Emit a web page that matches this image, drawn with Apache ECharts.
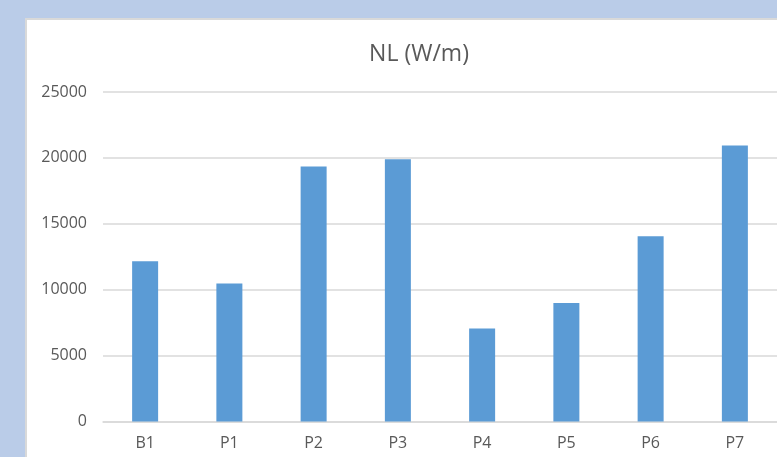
<!DOCTYPE html>
<html>
<head>
<meta charset="utf-8">
<script src="https://cdn.jsdelivr.net/npm/echarts@6/dist/echarts.min.js"></script>
<style>
  html, body { margin: 0; padding: 0; background: #bacce8; }
  #chart { width: 777px; height: 457px; }
</style>
</head>
<body>
<div id="chart"></div>
<script>
// Sections along the x axis
const categories = ['B1', 'P1', 'P2', 'P3', 'P4', 'P5', 'P6', 'P7'];
// Linear heat load per section (W/m)
const nlValues = [12150, 10470, 19350, 19900, 7060, 9000, 14050, 20950];
// Value axis range
const yMin = 0;
const yMax = 25000;
const yStep = 5000;

const textColor = '#595959';
const gridColor = '#d9d9d9';
const fontFamily = '"Open Sans", "Liberation Sans", sans-serif';

const chart = echarts.init(document.getElementById('chart'));
chart.setOption({
  backgroundColor: '#bacce8',
  animation: false,
  graphic: [{
    type: 'rect',
    z: -10,
    shape: { x: 26, y: 19, width: 900, height: 600 },
    style: { fill: '#ffffff', stroke: gridColor, lineWidth: 2 }
  }],
  title: {
    text: 'NL (W/m)',
    left: 414,
    top: 38,
    textAlign: 'center',
    textStyle: { color: textColor, fontSize: 23, fontWeight: 'normal', fontFamily: fontFamily }
  },
  grid: { left: 103, right: 0, top: 92, bottom: 35.5 },
  xAxis: {
    type: 'category',
    data: categories,
    axisLine: { show: true, lineStyle: { color: gridColor, width: 1.5 } },
    axisTick: { show: false },
    axisLabel: { color: textColor, fontSize: 16, fontFamily: fontFamily, margin: 14 }
  },
  yAxis: {
    type: 'value',
    min: yMin,
    max: yMax,
    interval: yStep,
    axisLine: { show: false },
    axisTick: { show: false },
    axisLabel: {
      color: textColor, fontSize: 16, fontFamily: fontFamily, margin: 16,
      formatter: (v) => String(v)
    },
    splitLine: { lineStyle: { color: gridColor, width: 1.5 } }
  },
  series: [{
    type: 'bar',
    data: nlValues,
    barWidth: 26,
    itemStyle: { color: '#5b9bd5' }
  }]
});
</script>
</body>
</html>
